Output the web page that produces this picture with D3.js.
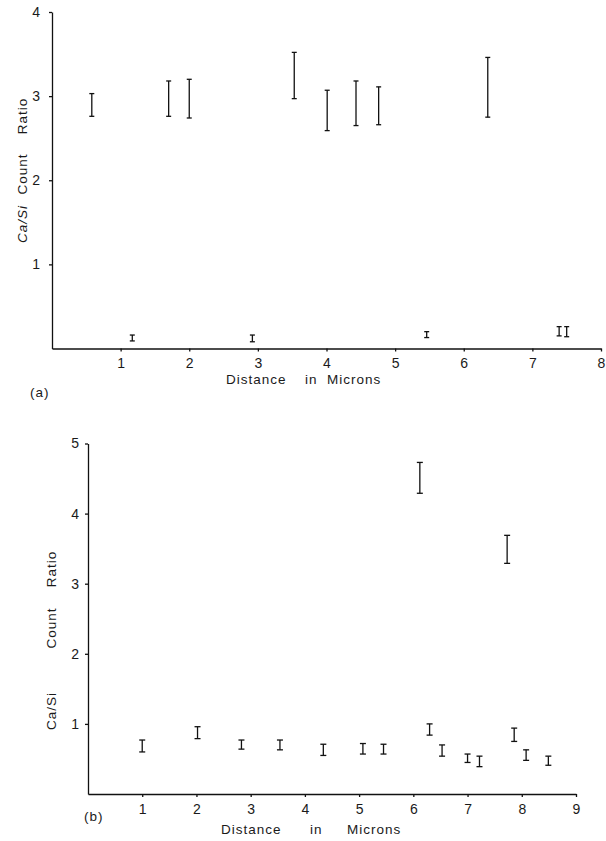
<!DOCTYPE html>
<html>
<head>
<meta charset="utf-8">
<script src="https://cdn.jsdelivr.net/npm/d3@7"></script>
<style>
  body { margin: 0; background: #fff; }
  svg { display: block; }
  .axis text { font-family: "Liberation Sans", Arial, sans-serif; font-size: 14px; fill: #1a1a1a; }
  .axis path, .axis line { stroke: #111; stroke-width: 1.3; }
  .lbl { font-family: "Liberation Sans", Arial, sans-serif; font-size: 13.5px; fill: #1a1a1a; letter-spacing: 1px; }
</style>
</head>
<body>
<svg id="chart" width="606" height="841"></svg>
<script>
// panel (a)
const topX    = [0.58, 1.17, 1.70, 2.00, 2.92, 3.53, 4.01, 4.43, 4.76, 5.46, 6.35, 7.39, 7.50];
const topLow  = [2.76, 0.09, 2.76, 2.74, 0.08, 2.97, 2.59, 2.65, 2.66, 0.13, 2.75, 0.15, 0.14];
const topHigh = [3.03, 0.16, 3.18, 3.20, 0.16, 3.52, 3.07, 3.18, 3.11, 0.20, 3.46, 0.26, 0.26];
const topXTicks = [1, 2, 3, 4, 5, 6, 7, 8];
const topYTicks = [1, 2, 3, 4];

// panel (b)
const botX    = [1.00, 2.02, 2.83, 3.54, 4.34, 5.07, 5.45, 6.12, 6.30, 6.53, 7.00, 7.22, 7.73, 7.86, 8.08, 8.49];
const botLow  = [0.60, 0.79, 0.64, 0.63, 0.55, 0.57, 0.57, 4.29, 0.84, 0.54, 0.45, 0.39, 3.29, 0.75, 0.48, 0.41];
const botHigh = [0.77, 0.96, 0.77, 0.77, 0.71, 0.72, 0.71, 4.73, 1.00, 0.70, 0.57, 0.54, 3.69, 0.94, 0.63, 0.54];
const botXTicks = [1, 2, 3, 4, 5, 6, 7, 8, 9];
const botYTicks = [1, 2, 3, 4, 5];

const svg = d3.select("#chart");

function panel(cfg) {
    const x = d3.scaleLinear().domain(cfg.xDomain).range(cfg.xRange);
    const y = d3.scaleLinear().domain(cfg.yDomain).range(cfg.yRange);
    const g = svg.append("g");

    g.append("g").attr("class", "axis")
        .attr("transform", `translate(0,${cfg.yRange[0]})`)
        .call(d3.axisBottom(x).tickValues(cfg.xTicks).tickFormat(d3.format("d"))
            .tickSize(3).tickSizeOuter(0).tickPadding(cfg.xPad));

    g.append("g").attr("class", "axis")
        .attr("transform", `translate(${cfg.xRange[0]},0)`)
        .call(d3.axisLeft(y).tickValues(cfg.yTicks).tickFormat(d3.format("d"))
            .tickSize(3).tickSizeOuter(0).tickPadding(cfg.yPad));

    const data = cfg.xs.map((v, i) => ({x: v, lo: cfg.lo[i], hi: cfg.hi[i]}));
    const bars = g.selectAll(".eb").data(data).enter().append("g").attr("class", "eb")
        .attr("stroke", "#111").attr("stroke-width", 1.3);
    bars.append("line")
        .attr("x1", d => x(d.x)).attr("x2", d => x(d.x))
        .attr("y1", d => y(d.lo)).attr("y2", d => y(d.hi));
    [d => d.lo, d => d.hi].forEach(f => {
        bars.append("line")
            .attr("x1", d => x(d.x) - cfg.cap).attr("x2", d => x(d.x) + cfg.cap)
            .attr("y1", d => y(f(d))).attr("y2", d => y(f(d)));
    });

    // axis titles
    g.append("text").attr("class", "lbl").attr("x", cfg.tagX).attr("y", cfg.tagY).text(cfg.tag);
    cfg.xWords.forEach(w => {
        g.append("text").attr("class", "lbl").attr("x", w[1]).attr("y", cfg.xLabelY).text(w[0]);
    });
    cfg.yWords.forEach(w => {
        g.append("text").attr("class", "lbl")
            .attr("text-anchor", "middle")
            .attr("font-style", w[2] ? "italic" : null)
            .attr("transform", `translate(${cfg.yLabelX},${w[1]}) rotate(-90)`)
            .text(w[0]);
    });
}

panel({
    xDomain: [0, 8], xRange: [52, 601],
    yDomain: [0, 4], yRange: [348.5, 12],
    xTicks: topXTicks, yTicks: topYTicks,
    xs: topX, lo: topLow, hi: topHigh,
    cap: 2.5, xPad: 7, yPad: 9,
    tag: "(a)", tagX: 30, tagY: 397,
    xLabelY: 384,
    xWords: [["Distance", 226], ["in", 305], ["Microns", 327]],
    yLabelX: 27,
    yWords: [["Ratio", 116], ["Count", 174], ["Ca/Si", 224, true]]
});

panel({
    xDomain: [0, 9], xRange: [88, 576],
    yDomain: [0, 5], yRange: [794, 443.5],
    xTicks: botXTicks, yTicks: botYTicks,
    xs: botX, lo: botLow, hi: botHigh,
    cap: 3, xPad: 7, yPad: 6,
    tag: "(b)", tagX: 84, tagY: 821,
    xLabelY: 834,
    xWords: [["Distance", 221], ["in", 310], ["Microns", 347]],
    yLabelX: 56,
    yWords: [["Ratio", 569], ["Count", 628], ["Ca/Si", 711, false]]
});
</script>
</body>
</html>
